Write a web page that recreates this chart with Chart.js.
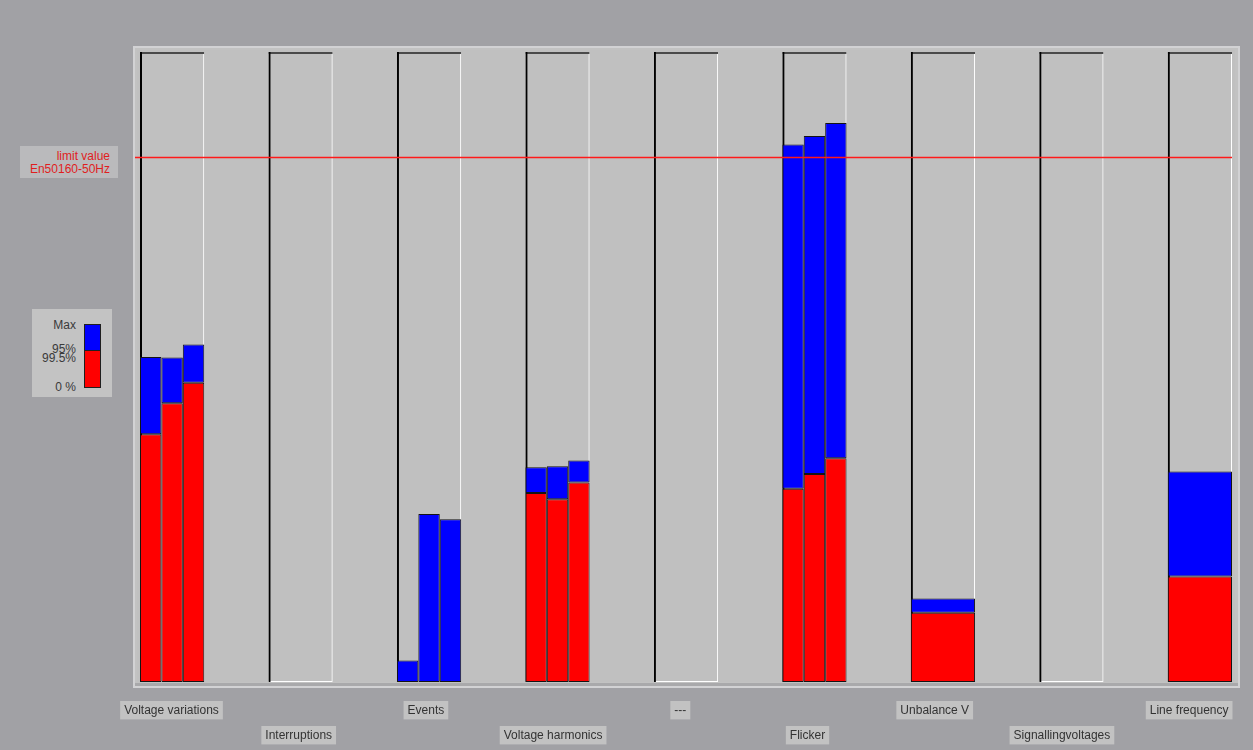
<!DOCTYPE html>
<html>
<head>
<meta charset="utf-8">
<script src="https://cdn.jsdelivr.net/npm/chart.js@4/dist/chart.umd.min.js"></script>
<style>
  html, body { margin: 0; padding: 0; background: #a1a1a5; overflow: hidden; }
  #wrap { position: relative; width: 1253px; height: 750px; }
  #c { position: absolute; left: 0; top: 0; }
  .ov { position: absolute; font-family: "Liberation Sans", Arial, sans-serif; font-size: 12px; }
  #limitBox { left: 20px; top: 146px; width: 98px; height: 32px; background: #bababc; }
  #limitBox div { position: absolute; right: 8px; color: #e01e1e; white-space: nowrap; line-height: 13px; }
  #legBox { left: 32px; top: 309px; width: 80px; height: 88px; background: #c3c3c3; }
  #legBox span { position: absolute; left: 0; width: 44px; text-align: right; color: #3a3a3a; line-height: 12px; white-space: nowrap; }
  #legBox i { position: absolute; left: 52px; width: 15px; border: 1px solid #202020; box-sizing: content-box; }
</style>
</head>
<body>
<div id="wrap">
  <canvas id="c" width="1253" height="750"></canvas>
  <div class="ov" id="limitBox">
    <div style="top:4px">limit value</div>
    <div style="top:17px">En50160-50Hz</div>
  </div>
  <div class="ov" id="legBox">
    <span style="top:10px">Max</span>
    <span style="top:34px">95%</span>
    <span style="top:43px">99.5%</span>
    <span style="top:72px">0 %</span>
    <i style="top:15px;height:25px;background:#0000ff"></i>
    <i style="top:41px;height:36px;background:#ff0000"></i>
  </div>
</div>
<script>
// ---- data ----
const categories = ['Voltage variations', 'Interruptions', 'Events', 'Voltage harmonics', '---',
                    'Flicker', 'Unbalance V', 'Signallingvoltages', 'Line frequency'];
// per-phase bars: 95 % value (red) and maximum (top of blue)
const p95L1 = [47.2, null, null, 36.0, null, 36.8, null, null, null];
const maxL1 = [61.9, null,  4.1, 40.9, null, 102.4, null, null, null];
const p95L2 = [53.1, null, null, 34.8, null, 39.6, null, null, null];
const maxL2 = [61.8, null, 32.0, 41.1, null, 104.0, null, null, null];
const p95L3 = [57.0, null, null, 38.0, null, 42.6, null, null, null];
const maxL3 = [64.3, null, 31.0, 42.2, null, 106.5, null, null, null];
// single (full-width) bars
const p95Tot = [null, null, null, null, null, null, 13.2, null, 20.1];
const maxTot = [null, null, null, null, null, null, 15.9, null, 40.1];
const limitValue = 100;
const yMax = 120;
const cellTop = categories.map(() => yMax);

// ---- helpers ----
const pts = arr => arr.map((v, i) => ({ x: i, y: v }));
const delta = (mx, p) => mx.map((m, i) => (m == null ? null : m - (p[i] == null ? 0 : p[i])));

const RED = '#ff0000', BLUE = '#0000ff';
const bar = (label, data, stack, color) => ({
  type: 'bar', label, data: pts(data), stack,
  backgroundColor: color, borderColor: '#141414', borderWidth: 1,
  borderSkipped: false, skipNull: true, order: 0
});
const frame = (label, color, bw) => ({
  type: 'bar', label, data: pts(cellTop), stack: label, grouped: false,
  backgroundColor: 'rgba(0,0,0,0)', borderColor: color, borderWidth: bw,
  borderSkipped: false, order: 5
});

const datasets = [
  bar('L1 95%', p95L1, 'p1', RED), bar('L1 max', delta(maxL1, p95L1), 'p1', BLUE),
  bar('L2 95%', p95L2, 'p2', RED), bar('L2 max', delta(maxL2, p95L2), 'p2', BLUE),
  bar('L3 95%', p95L3, 'p3', RED), bar('L3 max', delta(maxL3, p95L3), 'p3', BLUE),
  bar('95%', p95Tot, 'tot', RED), bar('max', delta(maxTot, p95Tot), 'tot', BLUE),
  frame('cellL', '#000000', { left: 2, top: 0, right: 0, bottom: 0 }),
  frame('cellT', '#4a4a4a', { left: 0, top: 2, right: 0, bottom: 0 }),
  frame('cellR', '#ffffff', { left: 0, top: 0, right: 1, bottom: 1 })
];

const framePlugin = {
  id: 'frameBg',
  beforeDraw(chart) {
    const { ctx, chartArea: a } = chart;
    ctx.save();
    ctx.fillStyle = '#d2d2d4';
    ctx.fillRect(a.left - 7, a.top - 6, a.right - a.left + 15, a.bottom - a.top + 12);
    ctx.fillStyle = '#c2c2c2';
    ctx.fillRect(a.left - 5, a.top - 4, a.right - a.left + 11, a.bottom - a.top + 6);
    ctx.fillStyle = '#c0c0c0';
    ctx.fillRect(a.left - 3, a.top - 2, a.right - a.left + 6, a.bottom - a.top + 2);
    ctx.fillStyle = '#a9a9ab';
    ctx.fillRect(a.left - 5, a.bottom + 1, a.right - a.left + 11, 3);
    ctx.restore();
  }
};
const limitPlugin = {
  id: 'limitLine',
  afterDatasetsDraw(chart) {
    const { ctx, chartArea: a, scales: { y } } = chart;
    const py = Math.round(y.getPixelForValue(limitValue)) + 0.5;
    ctx.save();
    ctx.strokeStyle = '#ff1a1a';
    ctx.lineWidth = 1.5;
    ctx.beginPath();
    ctx.moveTo(a.left - 5, py);
    ctx.lineTo(a.right, py);
    ctx.stroke();
    ctx.restore();
  }
};

const labelFont = { family: '"Liberation Sans", Arial, sans-serif', size: 12 };
const labelAxis = (parity, weight, padding, height) => ({
  type: 'linear', position: 'bottom', axis: 'x', weight, offset: false,
  min: -0.2476, max: 8.337,
  grid: { display: false, drawTicks: false, offset: false }, border: { display: false },
  afterBuildTicks: s => { s.ticks = categories.map((c, i) => ({ value: i })).filter(t => t.value % 2 === parity); },
  afterFit: s => { s.height = height; },
  ticks: {
    autoSkip: false, maxRotation: 0, minRotation: 0, padding,
    color: '#333333', font: labelFont,
    showLabelBackdrop: true, backdropColor: '#c2c2c2',
    backdropPadding: { top: 2, bottom: 2, left: 4, right: 4 },
    callback: v => categories[v]
  }
});

new Chart(document.getElementById('c'), {
  type: 'bar',
  data: { datasets },
  options: {
    responsive: false, animation: false, devicePixelRatio: 1,
    layout: { padding: { left: 140, right: 21, top: 52, bottom: 0 } },
    plugins: { legend: { display: false }, tooltip: { enabled: false } },
    datasets: { bar: { categoryPercentage: 0.5, barPercentage: 1.0 } },
    scales: {
      x: {
        type: 'linear', display: false, offset: false, min: -0.25, max: 8.25,
        grid: { offset: false },
        afterBuildTicks: s => { s.ticks = categories.map((c, i) => ({ value: i })); }
      },
      y: { type: 'linear', display: false, min: 0, max: yMax, stacked: true },
      lab1: labelAxis(0, 0, 21, 38),
      lab2: labelAxis(1, 1, 8, 30)
    }
  },
  plugins: [framePlugin, limitPlugin]
});
</script>
</body>
</html>
